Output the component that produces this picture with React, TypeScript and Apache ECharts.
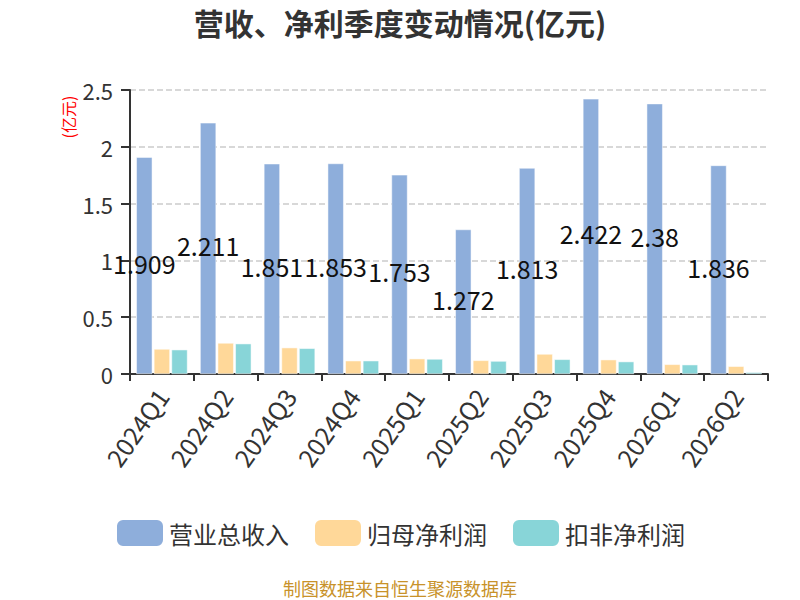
import React, { useEffect, useRef } from "react";
import * as echarts from "echarts";

const categories = ["2024Q1", "2024Q2", "2024Q3", "2024Q4", "2025Q1", "2025Q2", "2025Q3", "2025Q4", "2026Q1", "2026Q2"];
const revenue = [1.909, 2.211, 1.851, 1.853, 1.753, 1.272, 1.813, 2.422, 2.38, 1.836];
const netProfit = [0.22, 0.273, 0.232, 0.117, 0.135, 0.12, 0.176, 0.126, 0.085, 0.068];
const deductedProfit = [0.214, 0.267, 0.226, 0.117, 0.132, 0.114, 0.129, 0.109, 0.082, 0.015];
const seriesNames = ["营业总收入", "归母净利润", "扣非净利润"];
const colors = ["#8EAEDB", "#FFD899", "#88D5D8"];

const FONT = "Noto Sans CJK SC";

export default function App() {
  const ref = useRef<HTMLDivElement>(null);
  useEffect(() => {
    document.body.style.margin = "0";
    if (!ref.current) return;
    const chart = echarts.init(ref.current, undefined, { renderer: "svg" });
    const datasets = [revenue, netProfit, deductedProfit];
    chart.setOption({
      animation: false,
      textStyle: { fontFamily: FONT },
      title: {
        text: "营收、净利季度变动情况(亿元)",
        left: "center",
        top: 2,
        textStyle: { fontSize: 30, fontWeight: "bold", color: "#333", fontFamily: FONT },
      },
      legend: {
        top: 513,
        left: "center",
        itemWidth: 48,
        itemHeight: 28,
        itemGap: 24,
        icon: "roundRect",
        textStyle: { fontSize: 24, color: "#333", fontFamily: FONT },
        data: seriesNames,
      },
      grid: { left: 130, right: 32, top: 90, bottom: 226, containLabel: false },
      xAxis: {
        type: "category",
        data: categories,
        axisLine: { lineStyle: { color: "#333", width: 2 } },
        axisTick: { show: true, lineStyle: { color: "#333", width: 2 }, length: 7 },
        axisLabel: { rotate: 55, fontSize: 25, color: "#333", margin: 17, fontFamily: FONT },
      },
      yAxis: {
        type: "value",
        min: 0,
        max: 2.5,
        interval: 0.5,
        axisLine: { show: true, lineStyle: { color: "#333", width: 2 } },
        axisTick: { show: true, lineStyle: { color: "#333", width: 2 }, length: 9 },
        axisLabel: { fontSize: 22, color: "#333", margin: 17, fontFamily: FONT },
        splitLine: { show: true, lineStyle: { type: "dashed", color: "#ccc", width: 1.5 } },
      },
      graphic: [
        {
          type: "text",
          x: 68,
          y: 117,
          rotation: Math.PI / 2,
          style: {
            text: "(亿元)",
            fill: "#ff0000",
            fontSize: 16,
            fontFamily: FONT,
            textAlign: "center",
            textVerticalAlign: "middle",
          },
        },
        {
          type: "text",
          x: 400,
          y: 588,
          style: {
            text: "制图数据来自恒生聚源数据库",
            fill: "#C8922A",
            fontSize: 18,
            fontFamily: FONT,
            textAlign: "center",
            textVerticalAlign: "middle",
          },
        },
      ],
      series: seriesNames.map((name, i) => ({
        name,
        type: "bar",
        data: datasets[i],
        barWidth: 16,
        barGap: "10%",
        itemStyle: { color: colors[i], borderColor: "#fff", borderWidth: 0.5 },
        label:
          i === 0
            ? {
                show: true,
                position: "inside",
                offset: [0, -3],
                fontSize: 25,
                color: "#111",
                fontFamily: FONT,
              }
            : { show: false },
        z: 2,
      })),
    });
    return () => chart.dispose();
  }, []);
  return <div ref={ref} style={{ width: 800, height: 600 }} />;
}
